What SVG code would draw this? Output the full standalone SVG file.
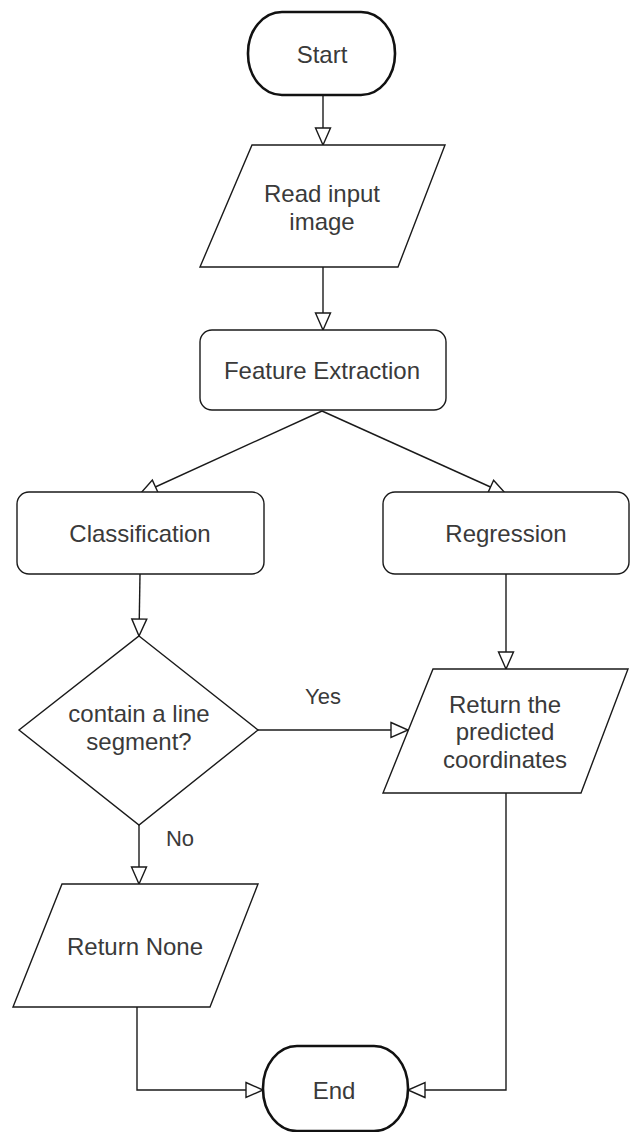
<svg xmlns="http://www.w3.org/2000/svg" width="630" height="1132" viewBox="0 0 630 1132">
<style>
.shape{fill:#fff;stroke:#1a1a1a;stroke-width:1.4;}
.term{fill:#fff;stroke:#111;stroke-width:2.6;}
.conn{fill:none;stroke:#1a1a1a;stroke-width:1.4;marker-end:url(#arr);}
text{font-family:"Liberation Sans",Arial,sans-serif;font-size:24px;fill:#3a3a3a;text-anchor:middle;}
.lbl{font-size:22px;}
</style>
<defs>
<marker id="arr" markerUnits="userSpaceOnUse" markerWidth="20" markerHeight="18" refX="17" refY="7.5" orient="auto" overflow="visible">
<path d="M0,0 L17,7.5 L0,15 Z" fill="#fff" stroke="#1a1a1a" stroke-width="1.4"/>
</marker>
</defs>
<rect width="630" height="1132" fill="#fff"/>
<g id="connectors">
<path class="conn" d="M323,95 L323,145"/>
<path class="conn" d="M323,267 L323,330"/>
<path class="conn" d="M322,411 L140,494"/>
<path class="conn" d="M322,411 L506,494"/>
<path class="conn" d="M140,574 L139,636"/>
<path class="conn" d="M506,574 L506,669"/>
<path class="conn" d="M258,730 L408,730"/>
<path class="conn" d="M139,825 L139,884"/>
<path class="conn" d="M137,1007 L137,1090 L263,1090"/>
<path class="conn" d="M506,793 L506,1090 L408,1090"/>
<text class="lbl" x="323" y="704">Yes</text>
<text class="lbl" x="180" y="846">No</text>
</g>
<g id="start">
<rect class="term" x="248" y="12" width="147" height="83" rx="34" ry="41"/>
<text x="322" y="63">Start</text>
</g>
<g id="read">
<polygon class="shape" points="252,145 445,145 398,267 200,267"/>
<text x="322" y="202">Read input</text>
<text x="322" y="230">image</text>
</g>
<g id="feature">
<rect class="shape" x="200" y="330" width="246" height="80" rx="12"/>
<text x="322" y="379">Feature Extraction</text>
</g>
<g id="classification">
<rect class="shape" x="17" y="492" width="247" height="82" rx="12"/>
<text x="140" y="542">Classification</text>
</g>
<g id="regression">
<rect class="shape" x="383" y="492" width="246" height="82" rx="12"/>
<text x="506" y="542">Regression</text>
</g>
<g id="decision">
<polygon class="shape" points="139,636 258,730 139,825 19,730"/>
<text x="139" y="722">contain a line</text>
<text x="139" y="750">segment?</text>
</g>
<g id="return-coords">
<polygon class="shape" points="433,669 628,669 581,793 383,793"/>
<text x="505" y="713">Return the</text>
<text x="505" y="740">predicted</text>
<text x="505" y="768">coordinates</text>
</g>
<g id="return-none">
<polygon class="shape" points="62,884 258,884 210,1007 13,1007"/>
<text x="135" y="955">Return None</text>
</g>
<g id="end">
<rect class="term" x="263" y="1046" width="145" height="85" rx="34" ry="42"/>
<text x="334" y="1099">End</text>
</g>
</svg>
